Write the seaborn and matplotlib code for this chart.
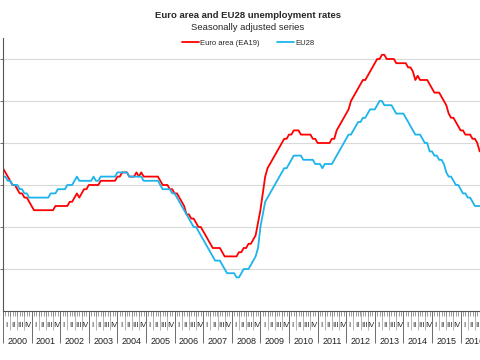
import numpy as np
import pandas as pd
import matplotlib
matplotlib.use("Agg")
import matplotlib.pyplot as plt
import seaborn as sns

# Monthly seasonally adjusted unemployment rates, Jan 2000 onwards (%)
ea19 = [
    9.4, 9.3, 9.2, 9.1, 9.0, 9.0, 8.9, 8.8, 8.8, 8.7, 8.7, 8.6,          # 2000
    8.5, 8.4, 8.4, 8.4, 8.4, 8.4, 8.4, 8.4, 8.4, 8.4, 8.5, 8.5,          # 2001
    8.5, 8.5, 8.5, 8.5, 8.6, 8.6, 8.7, 8.8, 8.7, 8.8, 8.9, 8.9,          # 2002
    9.0, 9.0, 9.0, 9.0, 9.0, 9.1, 9.1, 9.1, 9.1, 9.1, 9.1, 9.1,          # 2003
    9.2, 9.2, 9.3, 9.3, 9.3, 9.2, 9.2, 9.2, 9.3, 9.2, 9.3, 9.2,          # 2004
    9.2, 9.2, 9.2, 9.2, 9.2, 9.2, 9.1, 9.0, 9.0, 9.0, 8.9, 8.9,          # 2005
    8.8, 8.8, 8.7, 8.6, 8.5, 8.3, 8.3, 8.2, 8.2, 8.1, 8.0, 8.0,          # 2006
    7.9, 7.8, 7.7, 7.6, 7.5, 7.5, 7.5, 7.5, 7.4, 7.3, 7.3, 7.3,          # 2007
    7.3, 7.3, 7.3, 7.4, 7.4, 7.5, 7.5, 7.6, 7.6, 7.7, 7.8, 8.1,          # 2008
    8.4, 8.8, 9.2, 9.4, 9.5, 9.6, 9.7, 9.8, 9.9, 10.0, 10.1, 10.1,       # 2009
    10.2, 10.2, 10.3, 10.3, 10.3, 10.2, 10.2, 10.2, 10.2, 10.2, 10.1, 10.1,  # 2010
    10.0, 10.0, 10.0, 10.0, 10.0, 10.0, 10.1, 10.1, 10.3, 10.4, 10.5, 10.6,  # 2011
    10.7, 10.8, 11.0, 11.1, 11.2, 11.3, 11.4, 11.5, 11.5, 11.6, 11.7, 11.8,  # 2012
    11.9, 12.0, 12.0, 12.1, 12.1, 12.0, 12.0, 12.0, 12.0, 11.9, 11.9, 11.9,  # 2013
    11.9, 11.9, 11.8, 11.8, 11.7, 11.5, 11.6, 11.5, 11.5, 11.5, 11.5, 11.4,  # 2014
    11.3, 11.2, 11.2, 11.2, 11.1, 11.0, 10.9, 10.7, 10.6, 10.6, 10.5, 10.4,  # 2015
    10.3, 10.3, 10.2, 10.2, 10.2, 10.1, 10.1, 10.0, 9.8,                     # 2016
]
eu28 = [
    9.2, 9.2, 9.1, 9.1, 9.0, 9.0, 9.0, 8.9, 8.9, 8.8, 8.8, 8.7,          # 2000
    8.7, 8.7, 8.7, 8.7, 8.7, 8.7, 8.7, 8.7, 8.8, 8.8, 8.8, 8.9,          # 2001
    8.9, 8.9, 8.9, 9.0, 9.0, 9.0, 9.1, 9.2, 9.1, 9.1, 9.1, 9.1,          # 2002
    9.1, 9.1, 9.2, 9.1, 9.1, 9.2, 9.2, 9.2, 9.2, 9.2, 9.2, 9.2,          # 2003
    9.3, 9.3, 9.3, 9.3, 9.3, 9.2, 9.2, 9.2, 9.2, 9.2, 9.2, 9.1,          # 2004
    9.1, 9.1, 9.1, 9.1, 9.1, 9.1, 9.0, 8.9, 8.9, 8.9, 8.9, 8.8,          # 2005
    8.8, 8.7, 8.6, 8.5, 8.4, 8.3, 8.2, 8.1, 8.0, 8.0, 7.9, 7.8,          # 2006
    7.7, 7.6, 7.5, 7.4, 7.3, 7.2, 7.2, 7.2, 7.1, 7.0, 6.9, 6.9,          # 2007
    6.9, 6.9, 6.8, 6.8, 6.9, 7.0, 7.0, 7.0, 7.1, 7.2, 7.3, 7.5,          # 2008
    8.0, 8.3, 8.6, 8.7, 8.8, 8.9, 9.0, 9.1, 9.2, 9.3, 9.4, 9.4,          # 2009
    9.5, 9.6, 9.7, 9.7, 9.7, 9.7, 9.6, 9.6, 9.6, 9.6, 9.6, 9.5,          # 2010
    9.5, 9.5, 9.4, 9.5, 9.5, 9.5, 9.5, 9.6, 9.7, 9.8, 9.9, 10.0,         # 2011
    10.1, 10.2, 10.2, 10.3, 10.4, 10.5, 10.5, 10.6, 10.6, 10.7, 10.8, 10.8,  # 2012
    10.8, 10.9, 11.0, 11.0, 10.9, 10.9, 10.9, 10.9, 10.8, 10.7, 10.7, 10.7,  # 2013
    10.7, 10.6, 10.5, 10.4, 10.3, 10.2, 10.2, 10.2, 10.1, 10.0, 10.0, 9.8,   # 2014
    9.8, 9.7, 9.7, 9.6, 9.6, 9.5, 9.3, 9.2, 9.2, 9.1, 9.0, 9.0,          # 2015
    8.9, 8.8, 8.8, 8.7, 8.7, 8.6, 8.5, 8.5, 8.5,                         # 2016
]
series_names = ["Euro area (EA19)", "EU28"]
years = list(range(2000, 2018))
quarter_labels = ["I", "II", "III", "IV"]

# Tabla larga para seaborn
t = 2000 + np.arange(len(ea19)) / 12
df = pd.concat([
    pd.DataFrame({"t": t, "rate": ea19, "serie": series_names[0]}),
    pd.DataFrame({"t": t, "rate": eu28, "serie": series_names[1]}),
])

sns.set_style("white")
plt.rcParams["font.family"] = ["Liberation Sans", "DejaVu Sans"]

fig = plt.figure(figsize=(4.8, 3.6), dpi=100)
# el eje sigue mas alla del borde derecho (imagen recortada)
ax = fig.add_axes([3 / 480, 49 / 360, 490 / 480, 273 / 360])

sns.lineplot(data=df, x="t", y="rate", hue="serie", palette=["#ff0000", "#1cb4ec"],
             linewidth=1.3, ax=ax, legend=False)

x_end = 2000 + 490 / 28.6
ax.set_xlim(2000, x_end)
ax.set_ylim(6, 12.5)
ax.set_xlabel("")
ax.set_ylabel("")

# eje y sin etiquetas, solo rejilla
ax.set_yticks(range(7, 13))
ax.set_yticklabels([])
ax.tick_params(axis="y", left=True, length=2, width=0.6, color="#555555")
ax.grid(axis="y", color="#d9d9d9", linewidth=0.8)
ax.set_axisbelow(True)
for s in ["top", "right"]:
    ax.spines[s].set_visible(False)
for s in ["left", "bottom"]:
    ax.spines[s].set_color("#555555")
    ax.spines[s].set_linewidth(0.8)

# ticks: años (largos), meses (cortos)
ax.set_xticks(years)
ax.set_xticklabels([])
ax.set_xticks(np.arange(2000, x_end, 1 / 12), minor=True)
ax.tick_params(axis="x", which="major", bottom=True, length=23, width=0.6, color="#555555")
ax.tick_params(axis="x", which="minor", bottom=True, length=3.5, width=0.5, color="#777777")

# separadores de trimestre
q_sep = ax.secondary_xaxis("bottom")
q_sep.set_xticks([y + q / 4 for y in years for q in (1, 2, 3) if y + q / 4 < x_end])
q_sep.set_xticklabels([])
q_sep.tick_params(length=14, width=0.5, color="#999999")
q_sep.spines["bottom"].set_visible(False)

# etiquetas de trimestre
q_lab = ax.secondary_xaxis("bottom")
q_pos = [y + q / 4 + 1 / 8 for y in years for q in range(4) if y + q / 4 + 1 / 8 < x_end]
q_lab.set_xticks(q_pos)
q_lab.set_xticklabels([quarter_labels[i % 4] for i in range(len(q_pos))], fontsize=5.5, color="#222222")
q_lab.tick_params(length=0, pad=8)
q_lab.spines["bottom"].set_visible(False)

# etiquetas de año
y_lab = ax.secondary_xaxis("bottom")
y_lab.set_xticks([y + 0.5 for y in years if y + 0.5 < x_end])
y_lab.set_xticklabels([str(y) for y in years if y + 0.5 < x_end], fontsize=6.5, color="#222222")
y_lab.tick_params(length=0, pad=19)
y_lab.spines["bottom"].set_visible(False)

# titulo, subtitulo y leyenda
fig.text(248 / 480, 1 - 16 / 360, "Euro area and EU28 unemployment rates",
         ha="center", va="center", fontsize=6.8, fontweight="bold")
fig.text(248 / 480, 1 - 27.5 / 360, "Seasonally adjusted series",
         ha="center", va="center", fontsize=6.8)
handles = [plt.Line2D([], [], color=c, linewidth=1.3) for c in ["#ff0000", "#1cb4ec"]]
fig.legend(handles, series_names, loc="center", bbox_to_anchor=(248 / 480, 1 - 43 / 360),
           ncol=2, frameon=False, fontsize=5.5, handlelength=2.2, handletextpad=0.1,
           columnspacing=2.4)

fig.savefig("out.png", dpi=100)
